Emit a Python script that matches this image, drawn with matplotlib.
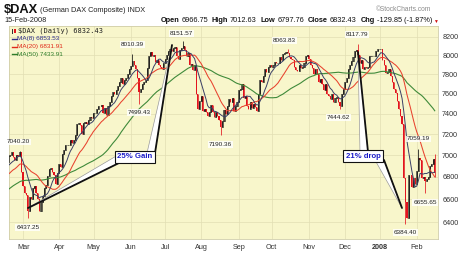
import matplotlib
matplotlib.use("Agg")
import matplotlib.pyplot as plt
import numpy as np
import pandas as pd
from matplotlib.patches import Polygon, Rectangle
from matplotlib.lines import Line2D
from matplotlib.ticker import FixedLocator, NullLocator

plt.rcParams["font.family"] = ["Liberation Sans", "DejaVu Sans"]

W, H = 463, 254  # output size in pixels (dpi 100)

# ---- daily closes, one per weekday (exchange holidays repeat prior close) ----
closes_2006_12 = [6349, 6410, 6436, 6451, 6431, 6437, 6460, 6450, 6490, 6540, 6574,
                  6555, 6535, 6560, 6545, 6540, 6540, 6540, 6570, 6590, 6597]
closes_2007_01 = [6597, 6681, 6675, 6640, 6562, 6580, 6620, 6560, 6640, 6712, 6746,
                  6760, 6774, 6770, 6790, 6730, 6720, 6780, 6750, 6700, 6720, 6750, 6789]
closes_2007_02 = [6850, 6870, 6850, 6880, 6920, 6880, 6890, 6850, 6880, 6940, 6990,
                  7000, 7030, 6980, 6960, 7000, 6990, 7030, 6843, 6715]
closes_2007_03 = [6656, 6640, 6500, 6620, 6600, 6700, 6720, 6660, 6600, 6500, 6580,
                  6630, 6700, 6730, 6810, 6870, 6880, 6850, 6820, 6740, 6840, 6917]
closes_2007_04 = [6890, 7010, 7050, 7100, 7100, 7100, 7140, 7120, 7140, 7190, 7300,
                  7310, 7290, 7200, 7310, 7320, 7300, 7340, 7370, 7360, 7410]
closes_2007_05 = [7410, 7446, 7480, 7477, 7490, 7410, 7460, 7390, 7480, 7520, 7580,
                  7620, 7600, 7640, 7680, 7720, 7760, 7700, 7740, 7760, 7800, 7850, 7890]
closes_2007_06 = [7940, 7900, 7850, 7760, 7620, 7650, 7700, 7720, 7740, 7860, 7990,
                  8030, 7990, 8000, 7930, 7950, 7900, 7880, 7850, 7920, 7960]
closes_2007_07 = [8000, 8050, 8070, 8040, 8080, 8090, 7990, 7960, 8060, 8080, 8100,
                  8060, 7990, 8020, 7900, 7910, 7840, 7900, 7600, 7450, 7530, 7580]
closes_2007_08 = [7430, 7450, 7420, 7380, 7420, 7490, 7420, 7370, 7420, 7380, 7340,
                  7270, 7330, 7440, 7400, 7480, 7550, 7520, 7560, 7430, 7480, 7520, 7640]
closes_2007_09 = [7650, 7700, 7560, 7580, 7480, 7450, 7520, 7460, 7500, 7470, 7430,
                  7600, 7740, 7720, 7780, 7850, 7820, 7880, 7900, 7880]
closes_2007_10 = [7900, 7930, 7920, 7920, 7980, 7950, 8010, 8020, 8030, 8020, 7980,
                  7960, 7950, 7880, 7840, 7830, 7900, 7860, 7880, 7920, 7990, 8000, 7960]
closes_2007_11 = [7900, 7860, 7800, 7850, 7800, 7720, 7750, 7700, 7640, 7700, 7600,
                  7580, 7550, 7600, 7520, 7560, 7570, 7520, 7480, 7600, 7650, 7720]
closes_2007_12 = [7760, 7850, 7900, 7940, 7980, 8040, 8060, 8000, 7920, 7950, 7850,
                  7880, 7860, 7880, 7990, 7990, 7990, 7990, 8050, 8070, 8070]
closes_2008_01 = [8070, 7950, 7900, 7810, 7820, 7850, 7780, 7720, 7650, 7610, 7530,
                  7450, 7380, 7300, 6790, 6574, 6440, 6822, 6817, 6711, 6792, 6739, 6851]
closes_2008_02 = [6970, 6960, 6790, 6800, 6760, 6780, 6800, 6900, 6920, 6962.28, 6832.43]

month_lists = [closes_2006_12, closes_2007_01, closes_2007_02, closes_2007_03,
               closes_2007_04, closes_2007_05, closes_2007_06, closes_2007_07,
               closes_2007_08, closes_2007_09, closes_2007_10, closes_2007_11,
               closes_2007_12, closes_2008_01, closes_2008_02]
first_shown_month = 3
month_labels = ["Mar", "Apr", "May", "Jun", "Jul", "Aug", "Sep", "Oct", "Nov",
                "Dec", "2008", "Feb"]

# last session (from the header)
last_open, last_high, last_low, last_close = 6966.75, 7012.63, 6797.76, 6832.43
last_chg, last_chg_pct = -129.85, -1.87
ma_values = {"MA(8)": 6853.53, "MA(20)": 6831.91, "MA(50)": 7433.91}

# labelled extremes: (month list index, position in month, value)
high_marks = [(2, 17, 7040.20), (6, 0, 8010.39), (7, 10, 8151.57),
              (10, 9, 8063.83), (12, 7, 8117.79), (14, 0, 7059.19)]
low_marks = [(3, 2, 6437.25), (6, 4, 7499.43), (8, 11, 7190.36),
             (11, 18, 7444.62), (13, 15, 6384.40), (14, 4, 6655.65)]
# label offsets in pixels (dx, dy down)
high_offsets = [(-1, -9), (0, -10), (-2, -8), (-3, -9), (-1, -10), (0, -10)]
low_offsets = [(0, 9.5), (0, 8.5), (0, 9), (-1.5, 8), (0, 8), (0, 9)]

y_ticks = [6400, 6600, 6800, 7000, 7200, 7400, 7600, 7800, 8000, 8200]

# ---- build series ----
closes = np.concatenate([np.asarray(m, dtype=float) for m in month_lists])
starts = np.cumsum([0] + [len(m) for m in month_lists])[:-1]
x = np.arange(len(closes))
prev = np.r_[closes[0], closes[:-1]]
opens = prev.copy()
opens[-1] = last_open
highs = np.maximum(opens, closes)
lows = np.minimum(opens, closes)
for m, p, v in high_marks:
    highs[starts[m] + p] = max(highs[starts[m] + p], v)
for m, p, v in low_marks:
    lows[starts[m] + p] = min(lows[starts[m] + p], v)
highs[-1] = last_high
lows[-1] = last_low
down = closes < prev

s = pd.Series(closes)
ma8 = s.rolling(8).mean()
ma20 = s.rolling(20).mean()
ma50 = s.rolling(50).mean()

# ---- figure ----
fig = plt.figure(figsize=(W / 100, H / 100), dpi=100)
fig.patch.set_facecolor("white")
ax = fig.add_axes([9 / W, 1 - 239 / H, (438 - 9) / W, (239 - 26) / H])
ax.set_facecolor("#f8f6cb")

ppd = 1.634                       # pixels per trading day
x0 = starts[first_shown_month] - 0.8
ax.set_xlim(x0 - (23.3 - 9) / ppd, x0 + (438 - 23.3) / ppd)
ax.set_yscale("log")
ax.set_ylim(6260, 8318)

month_ticks = starts[first_shown_month:] - 0.8
ax.xaxis.set_major_locator(FixedLocator(month_ticks))
ax.set_xticklabels(month_labels)
for lbl in ax.get_xticklabels():
    if lbl.get_text() == "2008":
        lbl.set_fontweight("bold")
ax.yaxis.set_major_locator(FixedLocator(y_ticks))
ax.yaxis.set_minor_locator(NullLocator())
ax.yaxis.set_major_formatter(plt.FuncFormatter(lambda v, _: f"{v:.0f}"))
ax.yaxis.tick_right()
ax.tick_params(axis="x", length=0, pad=3.5, labelsize=5.2, colors="#333333")
ax.tick_params(axis="y", length=0, pad=3, labelsize=5.2, colors="#333333")
ax.grid(True, color="#e2dfb4", linewidth=0.5)
ax.set_axisbelow(True)
for sp in ax.spines.values():
    sp.set_color("#d0cda8")
    sp.set_linewidth(0.6)

# candles
red, black = "#e3141e", "#111111"
cols = np.where(down, red, black)
ax.vlines(x, lows, highs, colors=cols, linewidth=0.55, zorder=3)
body_lo = np.minimum(opens, closes)
body_h = np.abs(closes - opens)
ax.bar(x[down], body_h[down], bottom=body_lo[down], width=0.7,
       color=red, linewidth=0, zorder=3)
ax.bar(x[~down], body_h[~down], bottom=body_lo[~down], width=0.7,
       facecolor="none", edgecolor=black, linewidth=0.45, zorder=3)

# moving averages
ax.plot(x, ma50, color="#3f8a3a", linewidth=0.8, zorder=4)
ax.plot(x, ma20, color="#e8422e", linewidth=0.75, zorder=4)
ax.plot(x, ma8, color="#3a3f66", linewidth=0.7, zorder=4)

# value labels at extremes
box = dict(boxstyle="square,pad=0.15", fc="white", ec="none", alpha=0.8)
for (m, p, v), (dx, dy) in zip(high_marks + low_marks, high_offsets + low_offsets):
    ax.annotate(f"{v:.2f}", xy=(starts[m] + p, v), xytext=(dx * 0.72, -dy * 0.72),
                textcoords="offset points", ha="center", va="center",
                fontsize=4.6, color="#222222", bbox=box, zorder=6,
                annotation_clip=False)


# ---- callouts (figure pixel geometry) ----
def fx(px):
    return px / W


def fy(py):
    return 1 - py / H


def tail(pts, dark_edge):
    poly = Polygon([(fx(a), fy(b)) for a, b in pts], closed=True,
                   transform=fig.transFigure, fc="white", ec="#9a9a9a",
                   lw=0.5, zorder=7)
    fig.add_artist(poly)
    (a1, b1), (a2, b2) = dark_edge
    fig.add_artist(Line2D([fx(a1), fx(a2)], [fy(b1), fy(b2)],
                          transform=fig.transFigure, color="#111111",
                          lw=1.3, zorder=7.5, solid_capstyle="round"))


# 25% Gain
tail([(28, 208), (118, 155), (121, 162)], [(28, 208), (121, 162)])
tail([(172, 45), (147, 153), (155, 153)], [(172, 45), (155, 153)])
# 21% drop
tail([(358, 52), (360, 152), (368, 152)], [(358, 52), (368, 152)])
tail([(402, 208), (375, 160), (384, 160)], [(402, 208), (384, 160)])

callout_box = dict(boxstyle="square,pad=0.3", fc="white", ec="#111111", lw=0.8)
fig.text(fx(135), fy(157), "25% Gain", ha="center", va="center", fontsize=5.6,
         fontweight="bold", color="#1c1cc8", bbox=callout_box, zorder=9)
fig.text(fx(363), fy(156), "21% drop", ha="center", va="center", fontsize=5.6,
         fontweight="bold", color="#1c1cc8", bbox=callout_box, zorder=9)

# ---- legend inside plot ----
fig.add_artist(Rectangle((fx(12), fy(33.5)), 1.4 / W, 5 / H, transform=fig.transFigure,
                         fc="#333333", ec="none", zorder=8))
fig.add_artist(Rectangle((fx(14.5), fy(32.5)), 1.4 / W, 4 / H, transform=fig.transFigure,
                         fc=red, ec="none", zorder=8))
fig.text(fx(18), fy(31), f"$DAX (Daily) {last_close:.2f}", fontsize=5.0,
         family="DejaVu Sans Mono", color="#222222", va="center", zorder=8)
legend_rows = [("MA(8)", "#2b2b8a", 38.7), ("MA(20)", "#e02a1a", 46.7),
               ("MA(50)", "#2f7d2a", 54.3)]
for name, col, yy in legend_rows:
    fig.add_artist(Line2D([fx(11.5), fx(16.5)], [fy(yy), fy(yy)],
                          transform=fig.transFigure, color=col, lw=1.0, zorder=8))
    fig.text(fx(17), fy(yy), f"{name} {ma_values[name]:.2f}", fontsize=4.6,
             color=col, va="center", zorder=8)

# ---- header ----
fig.text(fx(4), fy(10), "$DAX", fontsize=9.3, fontweight="bold", va="center",
         color="#111111")
fig.text(fx(40), fy(10.5), "(German DAX Composite) INDX", fontsize=5.3,
         va="center", color="#222222")
fig.text(fx(4), fy(21), "15-Feb-2008", fontsize=5.3, va="center", color="#222222")
fig.text(fx(431), fy(9.5), "\u00a9StockCharts.com", fontsize=4.8, va="center",
         ha="right", color="#8a8a8a")

runs = [("Open", "bold"), (f"{opens[-1]:.2f}", "normal"),
        ("High", "bold"), (f"{last_high:.2f}", "normal"),
        ("Low", "bold"), (f"{last_low:.2f}", "normal"),
        ("Close", "bold"), (f"{last_close:.2f}", "normal"),
        ("Chg", "bold"), (f"{last_chg:.2f} ({last_chg_pct:.2f}%)", "normal")]
renderer = fig.canvas.get_renderer()
widths = []
for txt, wt in runs:
    t = fig.text(0, 0, txt, fontsize=5.3, fontweight=wt)
    widths.append(t.get_window_extent(renderer).width)
    t.remove()
gaps = [2.0 if i % 2 == 0 else 3.8 for i in range(len(runs))]
total = sum(widths) + sum(gaps[:-1])
xpos = 432 - total
for (txt, wt), wd, g in zip(runs, widths, gaps):
    fig.text(fx(xpos), fy(21), txt, fontsize=5.3, fontweight=wt, va="center",
             color="#111111")
    xpos += wd + g
fig.text(fx(433), fy(21), "\u25bc", fontsize=3.5, va="center", color="#d01010")

fig.savefig("out.png", dpi=100)
